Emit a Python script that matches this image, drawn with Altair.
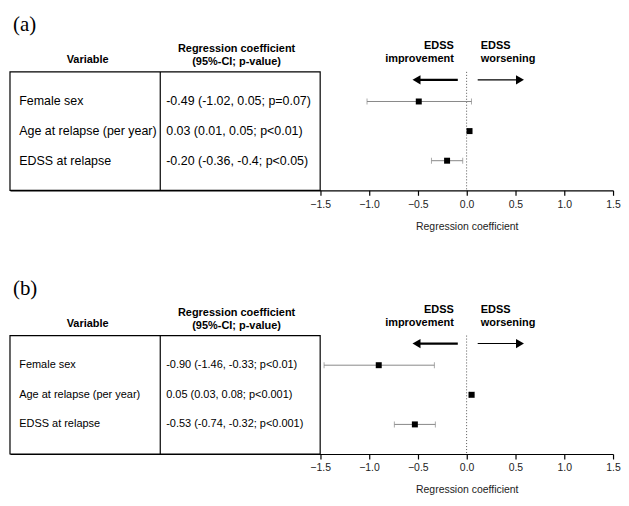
import altair as alt
import pandas as pd

VARIABLES = ["Female sex", "Age at relapse (per year)", "EDSS at relapse"]
ROWS = [1, 2, 3]

A_TEXT = ["-0.49 (-1.02, 0.05; p=0.07)", "0.03 (0.01, 0.05; p<0.01)", "-0.20 (-0.36, -0.4; p<0.05)"]
A_COEF = [-0.49, 0.03, -0.20]
A_LO = [-1.02, 0.01, -0.36]
A_HI = [0.05, 0.05, -0.04]

B_TEXT = ["-0.90 (-1.46, -0.33; p<0.01)", "0.05 (0.03, 0.08; p<0.001)", "-0.53 (-0.74, -0.32; p<0.001)"]
B_COEF = [-0.90, 0.05, -0.53]
B_LO = [-1.46, 0.03, -0.74]
B_HI = [-0.33, 0.08, -0.32]

TICKS = [-1.5, -1.0, -0.5, 0.0, 0.5, 1.0, 1.5]
REF_LINE = [0.0]

W = 606
H = 119
PX = 98.1
XMIN = -1.5 - 311.7 / PX
XMAX = 1.5
SANS = "Liberation Sans"

XS = alt.Scale(domain=[XMIN, XMAX], nice=False, zero=False)
YS = alt.Scale(domain=[0, 4], reverse=True, nice=False, zero=False)
XAXIS = alt.Axis(values=TICKS, format=".1f", grid=False, domainColor="black",
                 domainWidth=1.2, tickColor="black", tickWidth=1.2, tickSize=5,
                 labelPadding=4, labelFontSize=10.5, labelColor="#222", labelFont=SANS,
                 titleFont=SANS, titleFontSize=10.5, titleFontWeight="normal",
                 titleColor="#222", titleX=459, titleY=36, titleAlign="center",
                 titleBaseline="middle", labelFlush=False)


def xq(field):
    return alt.X(field, type="quantitative", scale=XS, axis=XAXIS, title="Regression coefficient")


def panel(tag, coef_text, coef, lo, hi, fs):
    df = pd.DataFrame({"row": ROWS, "var": VARIABLES, "txt": coef_text,
                       "coef": coef, "lo": lo, "hi": hi})
    one = pd.DataFrame({"k": [0]})
    ref = pd.DataFrame({"x0": REF_LINE})
    Y = alt.Y("row:Q", scale=YS, axis=None)

    box = alt.Chart(one).mark_rect(filled=False, stroke="black", strokeWidth=1.2).encode(
        x=alt.value(0), x2=alt.value(311.7), y=alt.value(0), y2=alt.value(H))
    divider = alt.Chart(one).mark_rule(color="black", strokeWidth=1.2).encode(
        x=alt.value(151), y=alt.value(0), y2=alt.value(H))
    zero = alt.Chart(ref).mark_rule(color="#555", strokeDash=[1, 2], strokeWidth=1).encode(
        x=xq("x0"), y=alt.value(0), y2=alt.value(H))

    bars = alt.Chart(df).mark_rule(color="#888", strokeWidth=1).encode(
        x=xq("lo"), x2="hi:Q", y=Y)
    cap_lo = alt.Chart(df).mark_tick(orient="vertical", color="#888", size=6, thickness=1).encode(
        x=xq("lo"), y=Y)
    cap_hi = alt.Chart(df).mark_tick(orient="vertical", color="#888", size=6, thickness=1).encode(
        x=xq("hi"), y=Y)
    pts = alt.Chart(df).mark_square(color="black", size=36, opacity=1).encode(x=xq("coef"), y=Y)

    var_txt = alt.Chart(df).mark_text(align="left", baseline="middle", font=SANS,
                                      fontSize=fs, color="black").encode(
        x=alt.value(9.3), y=Y, text="var:N")
    coef_txt = alt.Chart(df).mark_text(align="left", baseline="middle", font=SANS,
                                       fontSize=fs, color="black").encode(
        x=alt.value(157), y=Y, text="txt:N")

    def label(t, x, y, align="center", bold=True, size=11, font=SANS):
        return alt.Chart(one).mark_text(align=align, baseline="middle", font=font,
                                        fontSize=size, fontWeight="bold" if bold else "normal",
                                        color="black", text=t).encode(
            x=alt.value(x), y=alt.value(y))

    heads = [
        label(tag, 3, -47, align="left", bold=False, size=21, font="Liberation Serif"),
        label("Variable", 78, -12),
        label("Regression coefficient", 227.7, -23),
        label("(95%-CI; p-value)", 227.7, -10),
        label("EDSS", 446, -26, align="right"),
        label("improvement", 446, -13, align="right"),
        label("EDSS", 473, -26, align="left"),
        label("worsening", 473, -13, align="left"),
    ]

    arr_l = alt.Chart(one).mark_rule(color="black", strokeWidth=2.2).encode(
        x=alt.value(450), x2=alt.value(408), y=alt.value(8))
    arr_r = alt.Chart(one).mark_rule(color="black", strokeWidth=1.1).encode(
        x=alt.value(470), x2=alt.value(510), y=alt.value(8))
    head_l = alt.Chart(one).mark_point(shape="triangle-left", filled=True, color="black",
                                       size=85, opacity=1).encode(
        x=alt.value(408.5), y=alt.value(8))
    head_r = alt.Chart(one).mark_point(shape="triangle-right", filled=True, color="black",
                                       size=85, opacity=1).encode(
        x=alt.value(512.5), y=alt.value(8))

    return alt.layer(zero, box, divider, bars, cap_lo, cap_hi, pts, var_txt, coef_txt,
                     arr_l, arr_r, head_l, head_r, *heads).properties(width=W, height=H)


pa = panel("(a)", A_TEXT, A_COEF, A_LO, A_HI, 12.5)
pb = panel("(b)", B_TEXT, B_COEF, B_LO, B_HI, 11)

chart = alt.vconcat(pa, pb, spacing=46).properties(
    padding={"left": 1, "top": 5, "right": 0, "bottom": 0}
).configure_view(stroke=None)

chart.save("out.html", embed_options={"renderer": "svg", "actions": False})
